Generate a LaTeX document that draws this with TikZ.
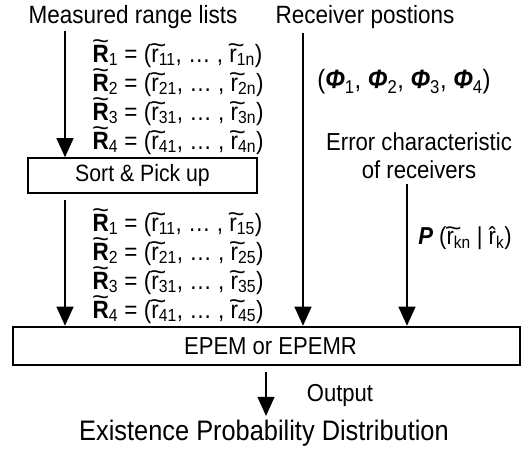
\documentclass[tikz,border=0pt]{standalone}
\usepackage{graphicx}
\usepackage{fontspec}
\setmainfont{Liberation Sans}[FakeStretch=0.9]
\usetikzlibrary{arrows.meta}
% tilde / hat placed over a letter
\newcommand{\tld}[2][0pt]{\leavevmode\setbox0\hbox{#2}\rlap{\hbox to \wd0{\hss\kern#1\raisebox{\dimexpr\ht0-0.2em\relax}[0pt][0pt]{\scalebox{1.3}[1]{\char"7E}}\kern-#1\hss}}\box0}
\newcommand{\htr}[1]{\leavevmode\setbox0\hbox{#1}\rlap{\hbox to \wd0{\hss\char"02C6\hss}}\box0}
\newcommand{\rvec}[2]{\tld{\textbf{R}}\textsubscript{#1} = (\tld[0.12em]{r}\textsubscript{#11}, \dots\ , \tld[0.12em]{r}\textsubscript{#1#2})}
\newcommand{\phib}[1]{{\bfseries\itshape\char"03A6}\textsubscript{#1}}
\begin{document}
\begin{tikzpicture}[x=1pt, y=-1pt, font=\fontsize{25}{29}\selectfont, >={Triangle[width=17pt,length=19pt]}, line width=1.3pt]
	\tikzset{box/.style={draw, inner sep=0pt},
		row/.style={anchor=base west, inner sep=0pt}}
	\useasboundingbox (0,0) rectangle (528,450);
	\node (meas) at (133,17) {Measured range lists};
	\node (recv) at (365,17) {Receiver postions};
	\foreach \i/\y in {1/62,2/91,3/120,4/149}
		\node[row] (raw\i) at (92,\y) {\rvec{\i}{n}};
	\node[font=\fontsize{26.5}{29}\selectfont] (phi) at (404,82) {(\phib1, \phib2, \phib3, \phib4)};
	\node[align=center, font=\fontsize{24.6}{28}\selectfont] (err) at (419,156) {Error characteristic\\of receivers};
	\node[box, line width=1.6pt, minimum width=229pt, minimum height=35pt, font=\fontsize{23.6}{25}\selectfont] (sort) at (142.5,175.5) {Sort \& Pick up};
	\foreach \i/\y in {1/231,2/260,3/289,4/318}
		\node[row] (pick\i) at (92,\y) {\rvec{\i}{5}};
	\node[font=\fontsize{24.5}{28}\selectfont] (prob) at (465,238) {{\bfseries\itshape P} (\tld[0.12em]{r}\textsubscript{kn} | \htr{r}\textsubscript{k})};
	\node[box, line width=2.6pt, minimum width=507pt, minimum height=38pt, font=\fontsize{24.5}{28}\selectfont] (epem) at (266.5,346) {\hspace{8pt}EPEM or EPEMR};
	\node[font=\fontsize{24.5}{28}\selectfont] (out) at (340,395) {Output};
	\node[font=\fontsize{28.2}{30}\selectfont] (exist) at (264,433) {Existence Probability Distribution};
	% arrows into the boxes
	\coordinate (a1) at (65,31);
	\coordinate (a2) at (65,200);
	\coordinate (b1) at (303,33);
	\coordinate (c1) at (407,184);
	\coordinate (d1) at (266,372);
	\draw[->] (a1) -- (a1 |- sort.north);
	\draw[->] (a2) -- (a2 |- epem.north);
	\draw[->] (b1) -- (b1 |- epem.north);
	\draw[->] (c1) -- (c1 |- epem.north);
	\draw[->] (d1) -- (d1 |- exist.north);
\end{tikzpicture}
\end{document}
